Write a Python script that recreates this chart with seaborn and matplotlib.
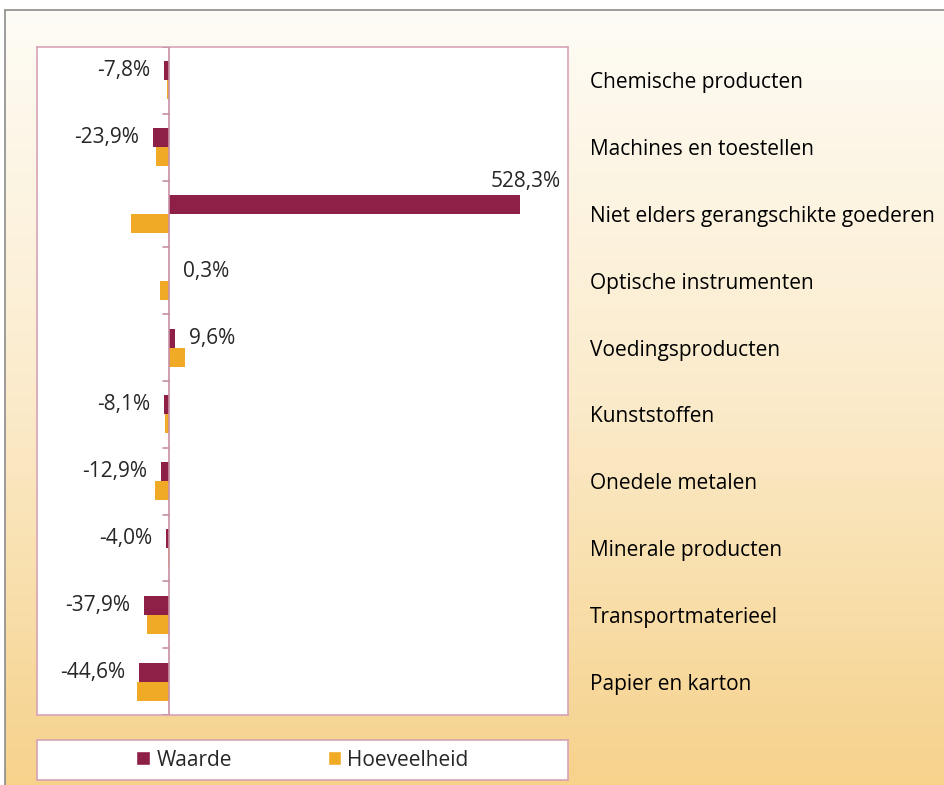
import matplotlib
matplotlib.use("Agg")
import matplotlib.pyplot as plt
import matplotlib.colors as mcolors
from matplotlib.patches import Patch
import seaborn as sns
import pandas as pd
import numpy as np

categories = [
    "Chemische producten",
    "Machines en toestellen",
    "Niet elders gerangschikte goederen",
    "Optische instrumenten",
    "Voedingsproducten",
    "Kunststoffen",
    "Onedele metalen",
    "Minerale producten",
    "Transportmaterieel",
    "Papier en karton",
]
waarde = [-7.8, -23.9, 528.3, 0.3, 9.6, -8.1, -12.9, -4.0, -37.9, -44.6]
hoeveelheid = [-2.5, -19.5, -57.0, -13.5, 24.0, -6.0, -21.0, -2.0, -33.0, -48.0]
series_names = ["Waarde", "Hoeveelheid"]

COL_W = "#8E1F47"
COL_H = "#F0AA25"
EDGE = "#D7A3B5"
FONT = "Open Sans"
FS = 15

W, H = 944, 785
fig = plt.figure(figsize=(W / 100, H / 100), dpi=100)
sns.set_style("white")
plt.rcParams["font.family"] = [FONT, "DejaVu Sans"]

# background with gradient frame
bg = fig.add_axes([0, 0, 1, 1], zorder=-10)
bg.set_xlim(0, W)
bg.set_ylim(H, 0)
bg.axis("off")
cmap = mcolors.LinearSegmentedColormap.from_list("bg", ["#FEFCF6", "#FBEBCB", "#F6D28B"])
grad = np.linspace(0, 1, 256).reshape(-1, 1)
bg.imshow(grad, cmap=cmap, aspect="auto", extent=(5, W, H, 10), zorder=0)
bg.plot([5, W], [10, 10], color="#8C8C8C", lw=1.2, zorder=1)
bg.plot([5, 5], [10, H], color="#8C8C8C", lw=1.2, zorder=1)

df = pd.DataFrame({
    "categorie": categories * 2,
    "reeks": [series_names[0]] * len(categories) + [series_names[1]] * len(categories),
    "waarde": waarde + hoeveelheid,
})

ax = fig.add_axes([37 / W, 1 - 715 / H, (568 - 37) / W, (715 - 47) / H])
ax.set_facecolor("white")
sns.barplot(data=df, y="categorie", x="waarde", hue="reeks", orient="h",
            palette=[COL_W, COL_H], saturation=1, width=0.57, gap=0, ax=ax,
            edgecolor="none", linewidth=0, legend=False, zorder=3)
ax.set_xlim(-199, 601)
ax.set_ylim(len(categories) - 0.5, -0.5)
ax.set_xlabel("")
ax.set_ylabel("")
ax.set_xticks([])
for s in ax.spines.values():
    s.set_color(EDGE)
    s.set_linewidth(1.2)

# category names on the right
ax.yaxis.set_ticks_position("right")
ax.tick_params(axis="y", labelright=True, labelleft=False, length=0, pad=15.5,
               labelsize=FS, labelcolor="black")

# zero line with small ticks
ax.axvline(0, color="#C890A4", lw=1.2, zorder=4)
x0 = (0 - ax.get_xlim()[0]) / (ax.get_xlim()[1] - ax.get_xlim()[0])
for yb in np.arange(-0.5, len(categories) + 0.5, 1.0):
    ax.axhline(yb, xmin=x0 - 0.012, xmax=x0, color="#C890A4", lw=1.2, zorder=4)

# value labels for Waarde
labels = [f"{v:.1f}%".replace(".", ",") for v in waarde]
big = int(np.argmax(waarde))
shown = [("" if i == big else l) for i, l in enumerate(labels)]
ax.bar_label(ax.containers[0], labels=shown, padding=10, fontsize=FS)
bar = ax.containers[0][big]
ax.annotate(labels[big], (bar.get_x() + bar.get_width(), bar.get_y()),
            xytext=(4, 2), textcoords="offset points", ha="center", va="bottom",
            fontsize=FS)

# legend box
lax = fig.add_axes([37 / W, 1 - 780 / H, (568 - 37) / W, (780 - 740) / H])
lax.set_xticks([])
lax.set_yticks([])
lax.set_facecolor("white")
for s in lax.spines.values():
    s.set_color(EDGE)
    s.set_linewidth(1.2)
handles = [Patch(facecolor=COL_W, label=series_names[0]),
           Patch(facecolor=COL_H, label=series_names[1])]
lax.legend(handles=handles, loc="center", ncol=2, frameon=False, fontsize=FS,
           handlelength=0.65, handleheight=0.65, handletextpad=0.3,
           columnspacing=4.6, borderaxespad=0)

fig.savefig("out.png", dpi=100)
